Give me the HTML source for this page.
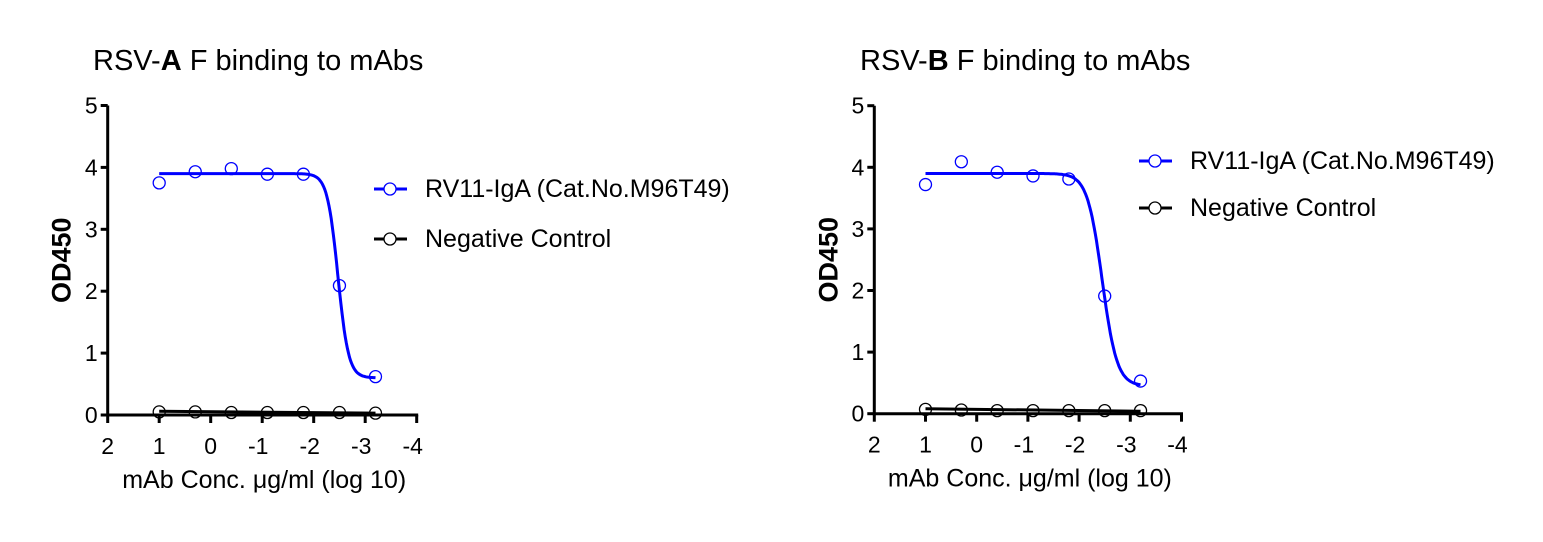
<!DOCTYPE html>
<html><head><meta charset="utf-8"><style>
body{margin:0;background:#fff;width:1543px;height:537px;overflow:hidden}
svg text{font-family:"Liberation Sans",Arial,sans-serif;fill:#000}
</style></head><body>
<svg id="svg" width="1543" height="537"></svg>
<script>
const xs=[1,0.3,-0.4,-1.1,-1.8,-2.5,-3.2];
const posA=[3.75,3.93,3.98,3.89,3.89,2.09,0.62];
const negA=[0.05,0.05,0.04,0.04,0.04,0.04,0.03];
const posB=[3.72,4.09,3.92,3.86,3.81,1.91,0.53];
const negB=[0.07,0.06,0.05,0.05,0.05,0.05,0.05];
const fitA=[3.9,0.6,-2.47,4.2];
const fitB=[3.9,0.45,-2.45,3.0];
const negFitA=[0.06,0.03];
const negFitB=[0.08,0.04];
const xTicks=[2,1,0,-1,-2,-3,-4];
const yTicks=[0,1,2,3,4,5];
const NS="http://www.w3.org/2000/svg";
const svg=document.getElementById('svg');
function mk(t,a,p){const e=document.createElementNS(NS,t);for(const k in a)e.setAttribute(k,a[k]);(p||svg).appendChild(e);return e;}
function panel(cfg){
 const g=mk('g',{});
 
 
 const X=v=>cfg.x0+(2-v)*cfg.ux, Y=v=>cfg.y0-v*cfg.uy;
 const t=mk('text',{x:cfg.tx,y:70,'font-size':29},g);
 t.innerHTML='RSV-<tspan font-weight="bold">'+cfg.letter+'</tspan> F binding to mAbs';
 
 
 const ya=mk('line',{x1:X(2),x2:X(2),y1:Y(0)+1.5,y2:Y(5),stroke:'#000','stroke-width':3},g);
 
 
 const xa=mk('line',{x1:X(2)-1.5,x2:X(-4)+1.5,y1:Y(0),y2:Y(0),stroke:'#000','stroke-width':3},g);
 
 
 yTicks.forEach(v=>{mk('line',{x1:X(2)-7,x2:X(2),y1:Y(v),y2:Y(v),stroke:'#000','stroke-width':3},g);
  const l=mk('text',{x:X(2)-10,y:Y(v)+8,'font-size':23,'text-anchor':'end'},g);l.textContent=v;
  
  });
 xTicks.forEach(v=>{mk('line',{x1:X(v),x2:X(v),y1:Y(0),y2:Y(0)+8,stroke:'#000','stroke-width':3},g);
  const l=mk('text',{x:X(v)+(v<0?-4:0),y:Y(0)+39,'font-size':23,'text-anchor':'middle'},g);l.textContent=v;
  
  });
 const yt=mk('text',{transform:`translate(${X(2)-37},${Y(2.5)}) rotate(-90)`,'font-size':27,'font-weight':'bold','text-anchor':'middle'},g);
 yt.textContent='OD450';
 
 
 const xt=mk('text',{x:X(-1)+2,y:Y(0)+73,'font-size':25,'text-anchor':'middle'},g);
 xt.textContent='mAb Conc. μg/ml (log 10)';
 
 
 const f=cfg.fit;let d='';
 for(let i=0;i<=200;i++){const x=1-4.2*i/200;const y=f[1]+(f[0]-f[1])/(1+Math.pow(10,(f[2]-x)*f[3]));d+=(i?'L':'M')+X(x).toFixed(1)+','+Y(y).toFixed(1);}
 const c=mk('path',{d:d,fill:'none',stroke:'#0000ff','stroke-width':3},g);
 
 
 const nl=mk('line',{x1:X(1),x2:X(-3.2),y1:Y(cfg.negFit[0]),y2:Y(cfg.negFit[1]),stroke:'#000','stroke-width':3},g);
 
 
 xs.forEach((x,i)=>{const p=mk('circle',{cx:X(x),cy:Y(cfg.pos[i]),r:6,fill:'none',stroke:'#0000ff','stroke-width':1.3},g);
  
  
  const n=mk('circle',{cx:X(x),cy:Y(cfg.neg[i]),r:6,fill:'none',stroke:'#000','stroke-width':1.3},g);
  
  });
 [['#0000ff','RV11-IgA (Cat.No.M96T49)',cfg.ly1],['#000','Negative Control',cfg.ly2]].forEach(([col,txt,yy])=>{
  const lg=mk('g',{},g);
  
  
  mk('line',{x1:cfg.lx,x2:cfg.lx+33,y1:yy,y2:yy,stroke:col,'stroke-width':3},lg);
  mk('circle',{cx:cfg.lx+16,cy:yy,r:6,fill:'#fff',stroke:col,'stroke-width':1.3},lg);
  const tt=mk('text',{x:cfg.lx+51,y:yy+8,'font-size':25},lg);tt.textContent=txt;});
}
panel({name:'chart-rsv-a',letter:'A',tx:93,x0:107.7,y0:415,ux:51.5,uy:61.9,pos:posA,neg:negA,fit:fitA,negFit:negFitA,lx:374,ly1:189,ly2:239});
panel({name:'chart-rsv-b',letter:'B',tx:860,x0:874.3,y0:413.7,ux:51.2,uy:61.6,pos:posB,neg:negB,fit:fitB,negFit:negFitB,lx:1139,ly1:161,ly2:208});
</script>
</body></html>
